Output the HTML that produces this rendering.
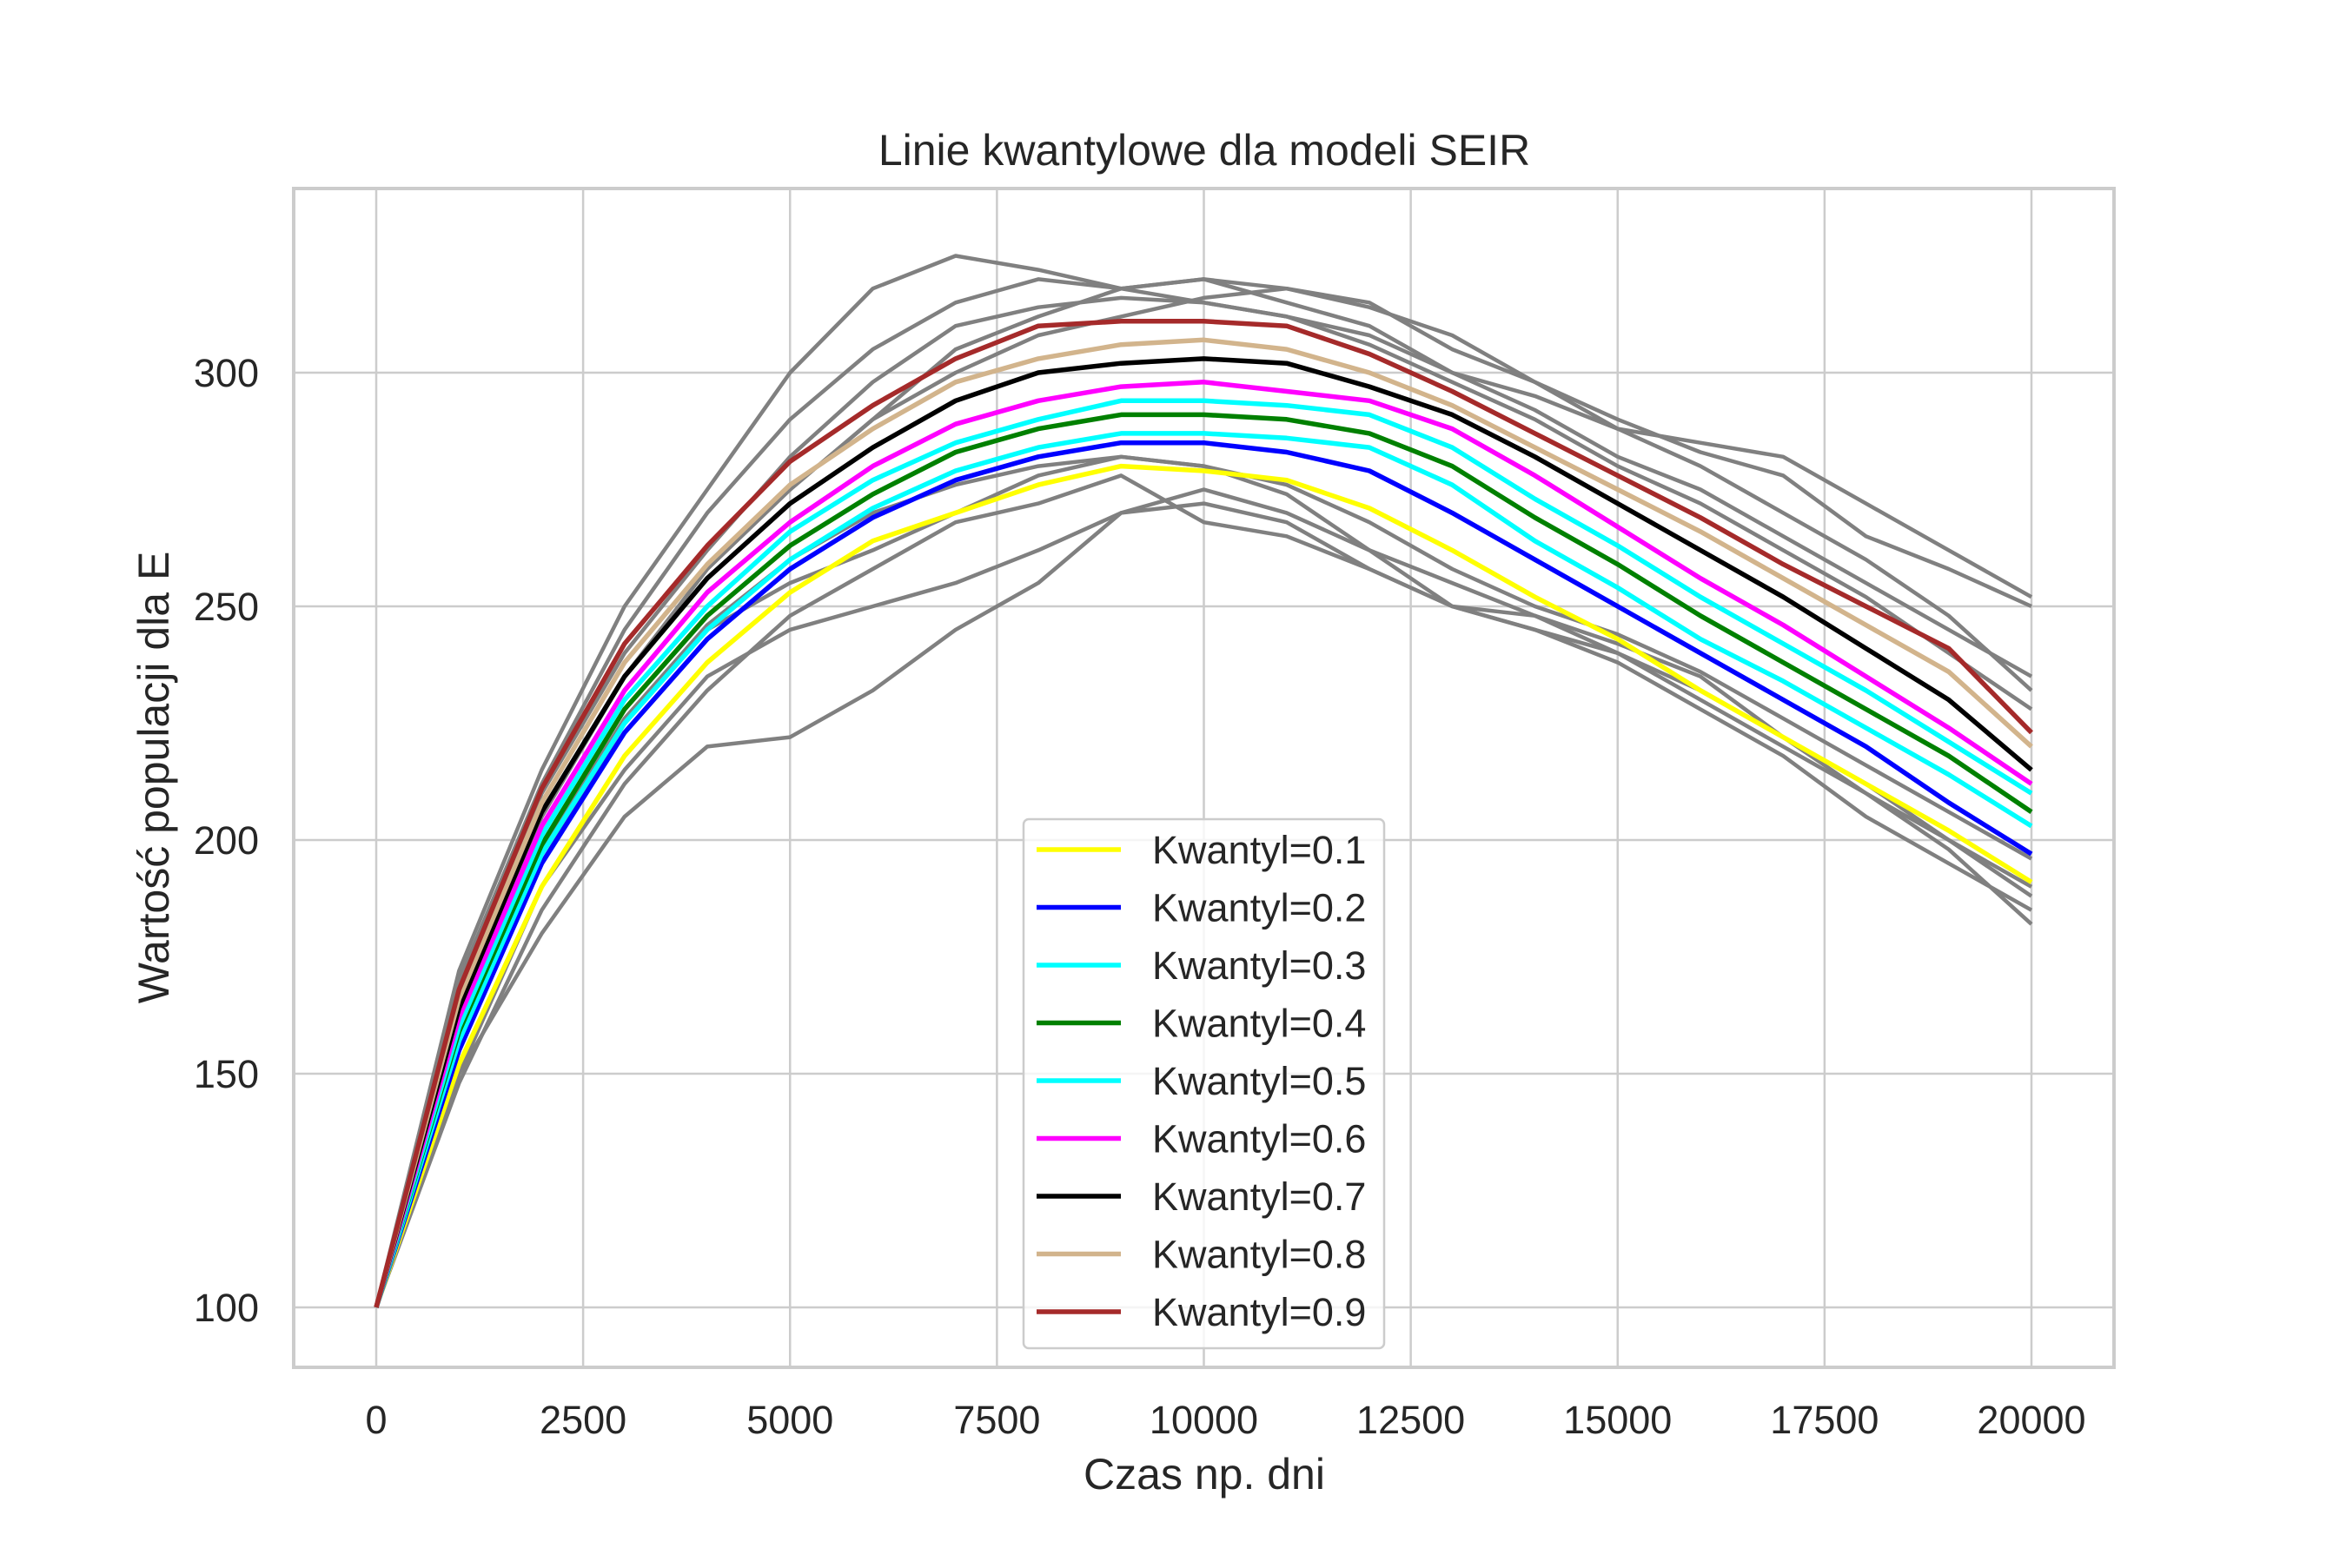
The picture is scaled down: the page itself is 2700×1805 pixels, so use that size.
<!DOCTYPE html>
<html><head><meta charset="utf-8"><style>
html,body{margin:0;padding:0;background:#fff;}
svg text{font-family:"Liberation Sans",sans-serif;fill:#262626;}
</style></head><body>
<svg id="chart" width="2700" height="1800" viewBox="0 0 2700 1800" xmlns="http://www.w3.org/2000/svg">
<rect x="0" y="0" width="2700" height="1800" fill="#fff"/>
<text x="1386" y="190" font-size="50" text-anchor="middle">Linie kwantylowe dla modeli SEIR</text>
<g id="grid"></g>
<g id="gray"></g>
<g id="quant"></g>
<rect x="338" y="217" width="2095" height="1357" fill="none" stroke="#cccccc" stroke-width="4"/>
<g id="ticks"></g>
<text x="1386" y="1714" font-size="50" text-anchor="middle">Czas np. dni</text>
<text x="0" y="0" font-size="50" text-anchor="middle" transform="translate(194,895) rotate(-90)">Wartość populacji dla E</text>
<g id="legend"></g>
</svg>
<script>
const xs = [0,1000,2000,3000,4000,5000,6000,7000,8000,9000,10000,11000,12000,13000,14000,15000,16000,17000,18000,19000,20000];
const xTicks = [0,2500,5000,7500,10000,12500,15000,17500,20000];
const yTicks = [100,150,200,250,300];
const qLabels = ["Kwantyl=0.1","Kwantyl=0.2","Kwantyl=0.3","Kwantyl=0.4","Kwantyl=0.5","Kwantyl=0.6","Kwantyl=0.7","Kwantyl=0.8","Kwantyl=0.9"];
const qColors = ["#ffff00","#0000ff","#00ffff","#008000","#00ffff","#ff00ff","#000000","#d2b48c","#a52a2a"];
const q1 = [100,152,190,218,238,253,264,270,276,280,279,277,271,262,252,243,232,222,212,202,191];
const q2 = [100,155,195,223,243,258,269,277,282,285,285,283,279,270,260,250,240,230,220,208,197];
const q3 = [100,157,197,225,245,260,271,279,284,287,287,286,284,276,264,254,243,234,224,214,203];
const q4 = [100,159,199,228,248,263,274,283,288,291,291,290,287,280,269,259,248,238,228,218,206];
const q5 = [100,160,201,230,250,266,277,285,290,294,294,293,291,284,273,263,252,242,232,221,210];
const q6 = [100,162,203,232,253,268,280,289,294,297,298,296,294,288,278,267,256,246,235,224,212];
const q7 = [100,164,206,235,256,272,284,294,300,302,303,302,297,291,282,272,262,252,241,230,215];
const q8 = [100,166,208,238,259,276,288,298,303,306,307,305,300,293,284,275,266,256,246,236,220];
const q9 = [100,168,211,242,263,281,293,303,310,311,311,310,304,296,287,278,269,259,250,241,223];
const g1 = [100,172,215,250,275,300,318,325,322,318,315,312,308,300,292,282,275,265,255,245,235];
const g2 = [100,150,180,205,220,222,232,245,255,270,275,270,262,255,248,240,232,222,212,200,190];
const g3 = [100,165,205,235,258,275,290,300,308,312,316,318,315,305,298,290,283,278,265,258,250];
const g4 = [100,148,185,212,232,248,258,268,272,278,268,265,258,250,245,238,228,218,205,195,185];
const g5 = [100,170,212,245,270,290,305,315,320,318,320,318,314,308,298,288,280,270,260,248,232];
const g6 = [100,155,195,225,245,255,262,270,278,282,280,274,262,250,245,240,230,220,210,200,188];
const g7 = [100,162,205,235,258,275,290,305,312,318,320,315,310,300,295,288,285,282,272,262,252];
const g8 = [100,150,190,215,235,245,250,255,262,270,272,268,258,250,248,242,235,222,210,198,182];
const g9 = [100,166,210,240,262,282,298,310,314,316,315,312,306,298,290,280,272,262,252,240,228];
const g10 = [100,158,198,226,246,260,270,276,280,282,280,276,268,258,250,244,236,226,216,206,196];

const NS="http://www.w3.org/2000/svg";
function X(v){return 433+(v-0)*(2338-433)/20000;}
function Y(v){return 1505-(v-100)*(1505-429)/200;}
function mk(tag,attrs,parent){const e=document.createElementNS(NS,tag);for(const k in attrs)e.setAttribute(k,attrs[k]);parent.appendChild(e);return e;}
const grid=document.getElementById('grid'), ticks=document.getElementById('ticks');
xTicks.forEach(t=>{
  const l=mk('line',{x1:X(t),x2:X(t),y1:217,y2:1574,stroke:'#cccccc','stroke-width':2.5},grid);
  
  
  const tx=mk('text',{x:X(t),y:1650,'font-size':45,'text-anchor':'middle'},ticks);
  tx.textContent=t;
  
  
});
yTicks.forEach(t=>{
  const l=mk('line',{x1:338,x2:2433,y1:Y(t),y2:Y(t),stroke:'#cccccc','stroke-width':2.5},grid);
  
  
  const tx=mk('text',{x:298,y:Y(t)+16,'font-size':45,'text-anchor':'end'},ticks);
  tx.textContent=t;
  
  
});
function path(arr){return arr.map((v,i)=>(i?'L':'M')+X(xs[i]).toFixed(1)+' '+Y(v).toFixed(1)).join(' ');}
const gray=document.getElementById('gray');
[g1,g2,g3,g4,g5,g6,g7,g8,g9,g10].forEach(a=>{
  const p=mk('path',{d:path(a),fill:'none',stroke:'#808080','stroke-width':4.5,'stroke-linejoin':'round'},gray);
  
  
});
const quant=document.getElementById('quant');
[q1,q2,q3,q4,q5,q6,q7,q8,q9].forEach((a,i)=>{
  const p=mk('path',{d:path(a),fill:'none',stroke:qColors[i],'stroke-width':5.5,'stroke-linejoin':'round'},quant);
  
  
});
const lg=document.getElementById('legend');
const box=mk('rect',{x:1178,y:943,width:415,height:609,rx:6,fill:'#ffffff','fill-opacity':0.8,stroke:'#cccccc','stroke-width':2.5},lg);


qLabels.forEach((lab,i)=>{
  const y=978+66.5*i;
  const l=mk('line',{x1:1193,x2:1290,y1:y,y2:y,stroke:qColors[i],'stroke-width':5.5},lg);
  
  
  const t=mk('text',{x:1326,y:y+16,'font-size':45},lg);
  t.textContent=lab;
  
  
});
</script>
</body></html>
